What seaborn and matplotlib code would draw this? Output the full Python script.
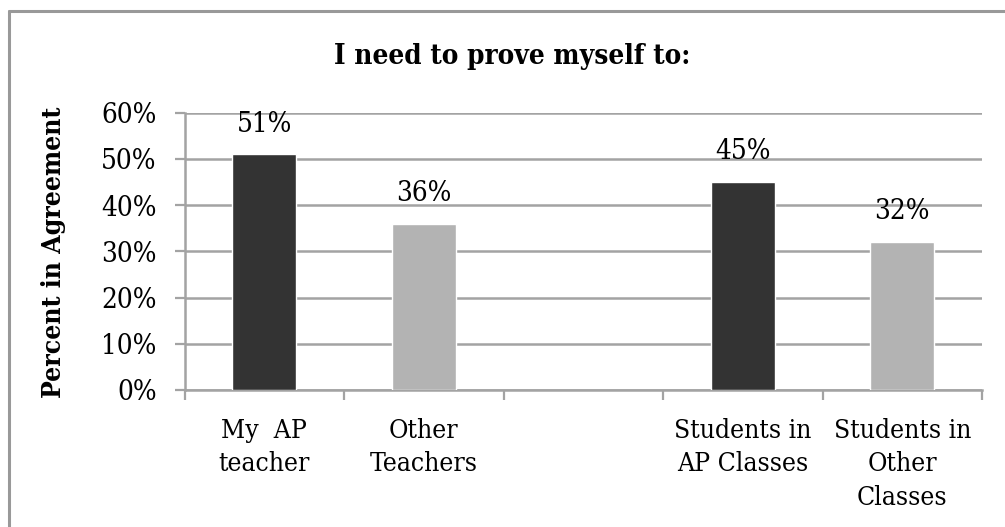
import numpy as np
import pandas as pd
import matplotlib
matplotlib.use("Agg")
import matplotlib.pyplot as plt
from matplotlib.lines import Line2D
import seaborn as sns

# ---- data ----
categories = ["My  AP\nteacher", "Other\nTeachers", " ",
              "Students in\nAP Classes", "Students in\nOther\nClasses"]
values = [0.51, 0.36, np.nan, 0.45, 0.32]
bar_colors = ["#333333", "#b3b3b3", "#ffffff", "#333333", "#b3b3b3"]
yticks = [0.0, 0.1, 0.2, 0.3, 0.4, 0.5, 0.6]
ytick_labels = ["0%", "10%", "20%", "30%", "40%", "50%", "60%"]
title = "I need to prove myself to:"
ylabel = "Percent in Agreement"

sns.set_theme(style="white")
plt.rcParams["font.family"] = ["DejaVu Serif"]
plt.rcParams["font.stretch"] = "condensed"
plt.rcParams["text.color"] = "black"

df = pd.DataFrame({"cat": categories, "val": values})

fig = plt.figure(figsize=(10.05, 5.27), dpi=100)
ax = fig.add_axes([184.6 / 1005, 1 - 390 / 527, (982 - 184.6) / 1005, (390 - 112.7) / 527])

grid_c = "#a3a3a3"
sns.barplot(data=df.dropna(), x="cat", y="val", order=categories, hue="cat",
            palette=dict(zip(categories, bar_colors)), width=0.4,
            legend=False, ax=ax, saturation=1, zorder=3)

ax.set_ylim(0, 0.6)
ax.set_xlim(-0.5, len(categories) - 0.5)
ax.set_yticks(yticks)
ax.set_yticklabels(ytick_labels, fontsize=20)
ax.yaxis.grid(True, color=grid_c, linewidth=1.8)
ax.set_axisbelow(True)
ax.set_xlabel("")
ax.set_ylabel("")

ax.set_xticks(range(len(categories)))
ax.set_xticklabels(categories, fontsize=19, linespacing=1.42)
ax.set_xticks(np.arange(-0.5, len(categories), 1.0), minor=True)
ax.tick_params(axis="x", which="major", length=0, pad=20)
ax.tick_params(axis="x", which="minor", length=7, width=1.6, direction="out")
ax.tick_params(axis="y", which="major", length=7.2, width=1.6,
               direction="out", pad=13)
ax.tick_params(labelcolor="black", which="both", left=True, bottom=True)
ax.tick_params(axis="both", which="both", color=grid_c)

for s in ["top", "right"]:
    ax.spines[s].set_visible(False)
for s in ["left", "bottom"]:
    ax.spines[s].set_color(grid_c)
    ax.spines[s].set_linewidth(1.8)

for i, v in enumerate(values):
    if not np.isnan(v):
        ax.annotate(f"{v * 100:.0f}%", (i, v), xytext=(0, 12), textcoords="offset points",
                    ha="center", va="bottom", fontsize=20, color="black")

fig.text(512 / 1005, 1 - 57 / 527, title, ha="center", va="center",
         fontsize=20, fontweight="bold", color="black")
fig.text(54 / 1005, 1 - 252 / 527, ylabel, ha="center", va="center",
         rotation=90, fontsize=19, fontweight="bold", color="black")

# outer chart border (top and left visible)
fig.add_artist(Line2D([9 / 1005, 9 / 1005], [0, 1 - 11 / 527], transform=fig.transFigure,
                      color="#999999", linewidth=2.2))
fig.add_artist(Line2D([9 / 1005, 1], [1 - 11 / 527, 1 - 11 / 527], transform=fig.transFigure,
                      color="#999999", linewidth=2.2))

fig.savefig("out.png", dpi=100, facecolor="white")
